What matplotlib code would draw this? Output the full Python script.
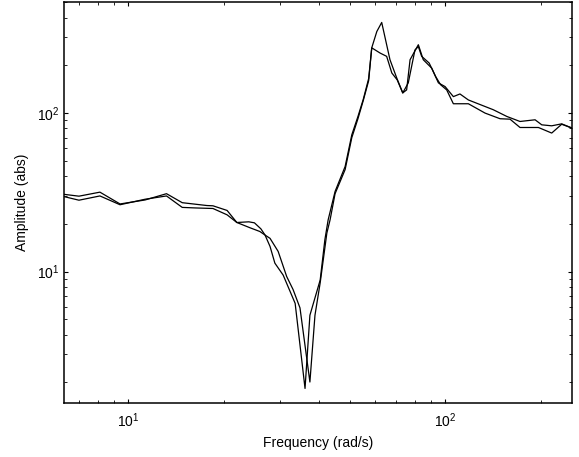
import matplotlib
matplotlib.use("Agg")
import matplotlib.pyplot as plt

plt.rcParams['font.family'] = ['Liberation Sans', 'DejaVu Sans']
plt.rcParams['mathtext.fontset'] = 'custom'
plt.rcParams['mathtext.rm'] = 'Liberation Sans'
plt.rcParams['mathtext.it'] = 'Liberation Sans:italic'

# frequency response, two curves (rad/s, abs amplitude)
freq_a = [6.28, 6.99, 8.14, 9.42, 11.3, 13.2, 14.8, 17.7, 18.5, 20.5,
          22.0, 24.0, 25.0, 26.2, 27.0, 28.0, 29.0, 30.8, 33.6, 36.1,
          37.4, 40.3, 41.7, 42.7, 44.9, 48.3, 50.7, 53.0, 55.1, 57.3,
          58.6, 60.8, 63.0, 66.9, 70.3, 73.4, 75.5, 77.4, 82.2, 85.2,
          90.6, 95.1, 99.8, 106, 111.2, 118.2, 141.6, 156.3, 172, 191.9,
          201.4, 216.5, 232.8, 251]
amp_a = [30.7, 29.9, 31.7, 26.7, 28.3, 31.0, 27.2, 26.1, 26.0, 24.3,
         20.4, 20.6, 20.3, 18.6, 17.0, 14.4, 11.3, 9.5, 6.3, 1.83,
         5.3, 8.85, 15.9, 21.2, 32.0, 46.0, 72.9, 95, 122, 165,
         258, 327, 373, 217, 166, 134, 140, 217, 270, 217,
         192, 155, 147, 127, 132, 121, 105, 95.2, 88.5, 90.7,
         84.3, 83.1, 85.5, 80.4]

freq_b = [6.28, 6.99, 8.14, 9.42, 11.3, 13.2, 14.8, 16.3, 18.5, 20.5,
          22.0, 24.2, 26.0, 27.0, 28.0, 29.7, 31.6, 33.1, 34.8, 37.4,
          38.8, 40.3, 42.3, 43.3, 44.9, 48.3, 50.7, 53.0, 55.1, 57.3,
          58.6, 62.3, 65.3, 67.8, 70.5, 73.4, 76.4, 80.2, 82.2, 84.2,
          88.9, 93.2, 96.6, 101, 106, 118.2, 133.4, 148.8, 160, 172,
          196.6, 216.5, 232.8, 251]
amp_b = [29.7, 28.2, 30.0, 26.4, 28.6, 30.0, 25.4, 25.2, 25.0, 22.8,
         20.4, 18.9, 17.9, 17.0, 16.2, 13.4, 9.3, 7.7, 5.9, 2.01,
         5.3, 8.5, 17.5, 21.2, 31, 44, 70, 92, 120, 160,
         258, 239, 228, 179, 162, 134, 155, 250, 263, 228,
         207, 170, 151, 140, 114.5, 114.5, 100, 92.1, 91.5, 81.1,
         81.1, 74.8, 85, 80.4]

fig = plt.figure(figsize=(5.79, 4.57), dpi=100)
ax = fig.add_axes([0.111, 0.119, 0.8773, 0.8775])

ax.plot(freq_a, amp_a, color='black', lw=0.9)
ax.plot(freq_b, amp_b, color='black', lw=0.9)

ax.set_xscale('log')
ax.set_yscale('log')
ax.set_xlim(6.2832, 251.3)
ax.set_ylim(1.49, 505)

ax.tick_params(which='both', direction='in', top=True, right=True, labelsize=10)
ax.tick_params(which='major', length=3.2, width=0.8)
ax.tick_params(which='minor', length=2, width=0.6)
ax.tick_params(axis='x', which='major', pad=6)
for s in ax.spines.values():
    s.set_linewidth(1.1)

ax.set_xlabel('Frequency (rad/s)', fontsize=10, labelpad=5)
ax.set_ylabel('Amplitude (abs)', fontsize=10, labelpad=6)

fig.savefig('out.png', dpi=100)
